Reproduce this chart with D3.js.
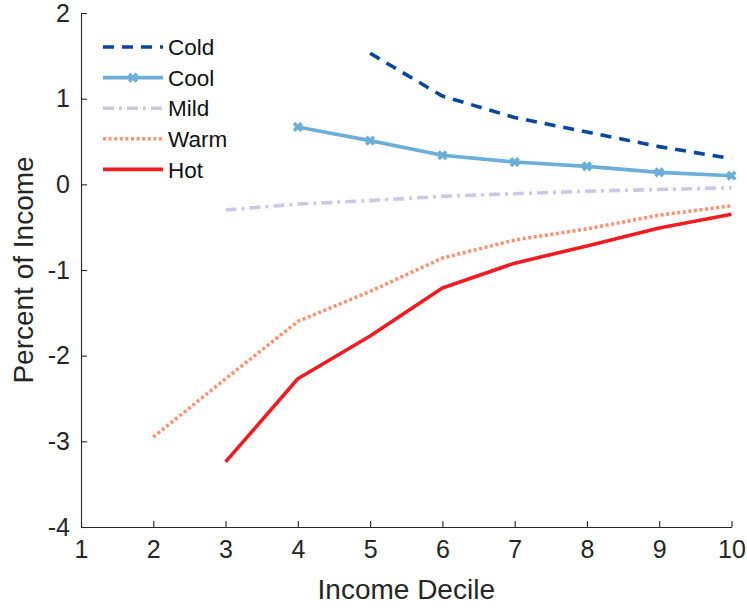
<!DOCTYPE html>
<html>
<head>
<meta charset="utf-8">
<script src="https://cdn.jsdelivr.net/npm/d3@7/dist/d3.min.js"></script>
<style>
  html, body { margin: 0; padding: 0; background: #fff; }
  svg { display: block; font-family: "Liberation Sans", Arial, Helvetica, sans-serif; }
</style>
</head>
<body>
<svg id="chart" width="747" height="610"></svg>
<script>
// Income deciles on the x axis
const deciles = [1, 2, 3, 4, 5, 6, 7, 8, 9, 10];
const xTicks = [1, 2, 3, 4, 5, 6, 7, 8, 9, 10];
const yTicks = [-4, -3, -2, -1, 0, 1, 2];

// Change in income (%) per climate scenario; null where a decile has no value
const cold = [null, null, null, null, 1.53, 1.03, 0.78, 0.61, 0.44, 0.30];
const cool = [null, null, null, 0.67, 0.51, 0.34, 0.26, 0.21, 0.14, 0.10];
const mild = [null, null, -0.30, -0.23, -0.19, -0.14, -0.11, -0.08, -0.06, -0.04];
const warm = [null, -2.95, -2.27, -1.60, -1.25, -0.86, -0.65, -0.52, -0.36, -0.25];
const hot  = [null, null, -3.24, -2.27, -1.77, -1.21, -0.92, -0.72, -0.51, -0.35];

const seriesNames = ["Cold", "Cool", "Mild", "Warm", "Hot"];
const seriesValues = [cold, cool, mild, warm, hot];

const styles = {
  Cold: { color: "#08479a", dash: "11,8", marker: false },
  Cool: { color: "#6baed6", dash: null, marker: true },
  Mild: { color: "#cbc9e2", dash: "11,5,3,5", marker: false },
  Warm: { color: "#fc9272", dash: "3,2.6", marker: false },
  Hot:  { color: "#ee1c23", dash: null, marker: false }
};

const svg = d3.select("#chart");
const plotLeft = 81, plotRight = 731.5, plotTop = 13, plotBottom = 527;
const textColor = "#262626";

const x = d3.scaleLinear().domain([1, 10]).range([plotLeft, plotRight]);
const y = d3.scaleLinear().domain([-4, 2]).range([plotBottom, plotTop]);

// Axes: ticks point inward, no box on top/right
const xAxis = d3.axisBottom(x).tickValues(xTicks).tickSizeInner(-6).tickSizeOuter(0)
  .tickPadding(13).tickFormat(d3.format("d"));
const yAxis = d3.axisLeft(y).tickValues(yTicks).tickSizeInner(-6).tickSizeOuter(0)
  .tickPadding(11).tickFormat(d => d < 0 ? "-" + Math.abs(d) : String(d));

const gx = svg.append("g").attr("transform", `translate(0,${plotBottom})`).call(xAxis);
const gy = svg.append("g").attr("transform", `translate(${plotLeft},0)`).call(yAxis);
[gx, gy].forEach(g => {
  g.select(".domain").attr("stroke", textColor).attr("stroke-width", 1.1);
  g.selectAll(".tick line").attr("stroke", textColor).attr("stroke-width", 1.1);
  g.selectAll(".tick text").attr("fill", textColor).attr("font-size", 25)
    .attr("font-family", "Liberation Sans, Arial, sans-serif");
});
gx.selectAll(".tick text").attr("dy", "0.71em");

// Axis titles
svg.append("text").attr("x", (plotLeft + plotRight) / 2).attr("y", 599)
  .attr("text-anchor", "middle").attr("font-size", 28).attr("fill", textColor)
  .text("Income Decile");
svg.append("text")
  .attr("transform", `translate(33,${(plotTop + plotBottom) / 2}) rotate(-90)`)
  .attr("text-anchor", "middle").attr("font-size", 28).attr("fill", textColor)
  .text("Percent of Income");

// Lines
const line = d3.line()
  .defined(d => d.v !== null)
  .x(d => x(d.x))
  .y(d => y(d.v));

function crossPath(cx, cy, r) {
  return `M${cx - r},${cy - r}L${cx + r},${cy + r}M${cx - r},${cy + r}L${cx + r},${cy - r}`;
}

seriesNames.forEach((name, i) => {
  const st = styles[name];
  const pts = deciles.map((d, j) => ({ x: d, v: seriesValues[i][j] }));
  svg.append("path")
    .datum(pts)
    .attr("d", line)
    .attr("fill", "none")
    .attr("stroke", st.color)
    .attr("stroke-width", 3.6)
    .attr("stroke-dasharray", st.dash)
    .attr("stroke-linejoin", "round");
  if (st.marker) {
    svg.append("g").selectAll("path")
      .data(pts.filter(p => p.v !== null))
      .join("path")
      .attr("d", p => crossPath(x(p.x), y(p.v), 3.8))
      .attr("stroke", st.color)
      .attr("stroke-width", 3.6)
      .attr("fill", "none");
  }
});

// Legend
const legend = svg.append("g");
const legY0 = 47, legDy = 30.6, legX0 = 103, legX1 = 163;
seriesNames.forEach((name, i) => {
  const st = styles[name];
  const ly = legY0 + i * legDy;
  legend.append("line")
    .attr("x1", legX0).attr("x2", legX1).attr("y1", ly).attr("y2", ly)
    .attr("stroke", st.color).attr("stroke-width", 3.6)
    .attr("stroke-dasharray", st.dash);
  if (st.marker) {
    legend.append("path")
      .attr("d", crossPath((legX0 + legX1) / 2, ly, 3.8))
      .attr("stroke", st.color).attr("stroke-width", 3.6).attr("fill", "none");
  }
  legend.append("text")
    .attr("x", 168).attr("y", ly).attr("dy", "0.36em")
    .attr("font-size", 22.5).attr("fill", "#111")
    .text(name);
});
</script>
</body>
</html>
